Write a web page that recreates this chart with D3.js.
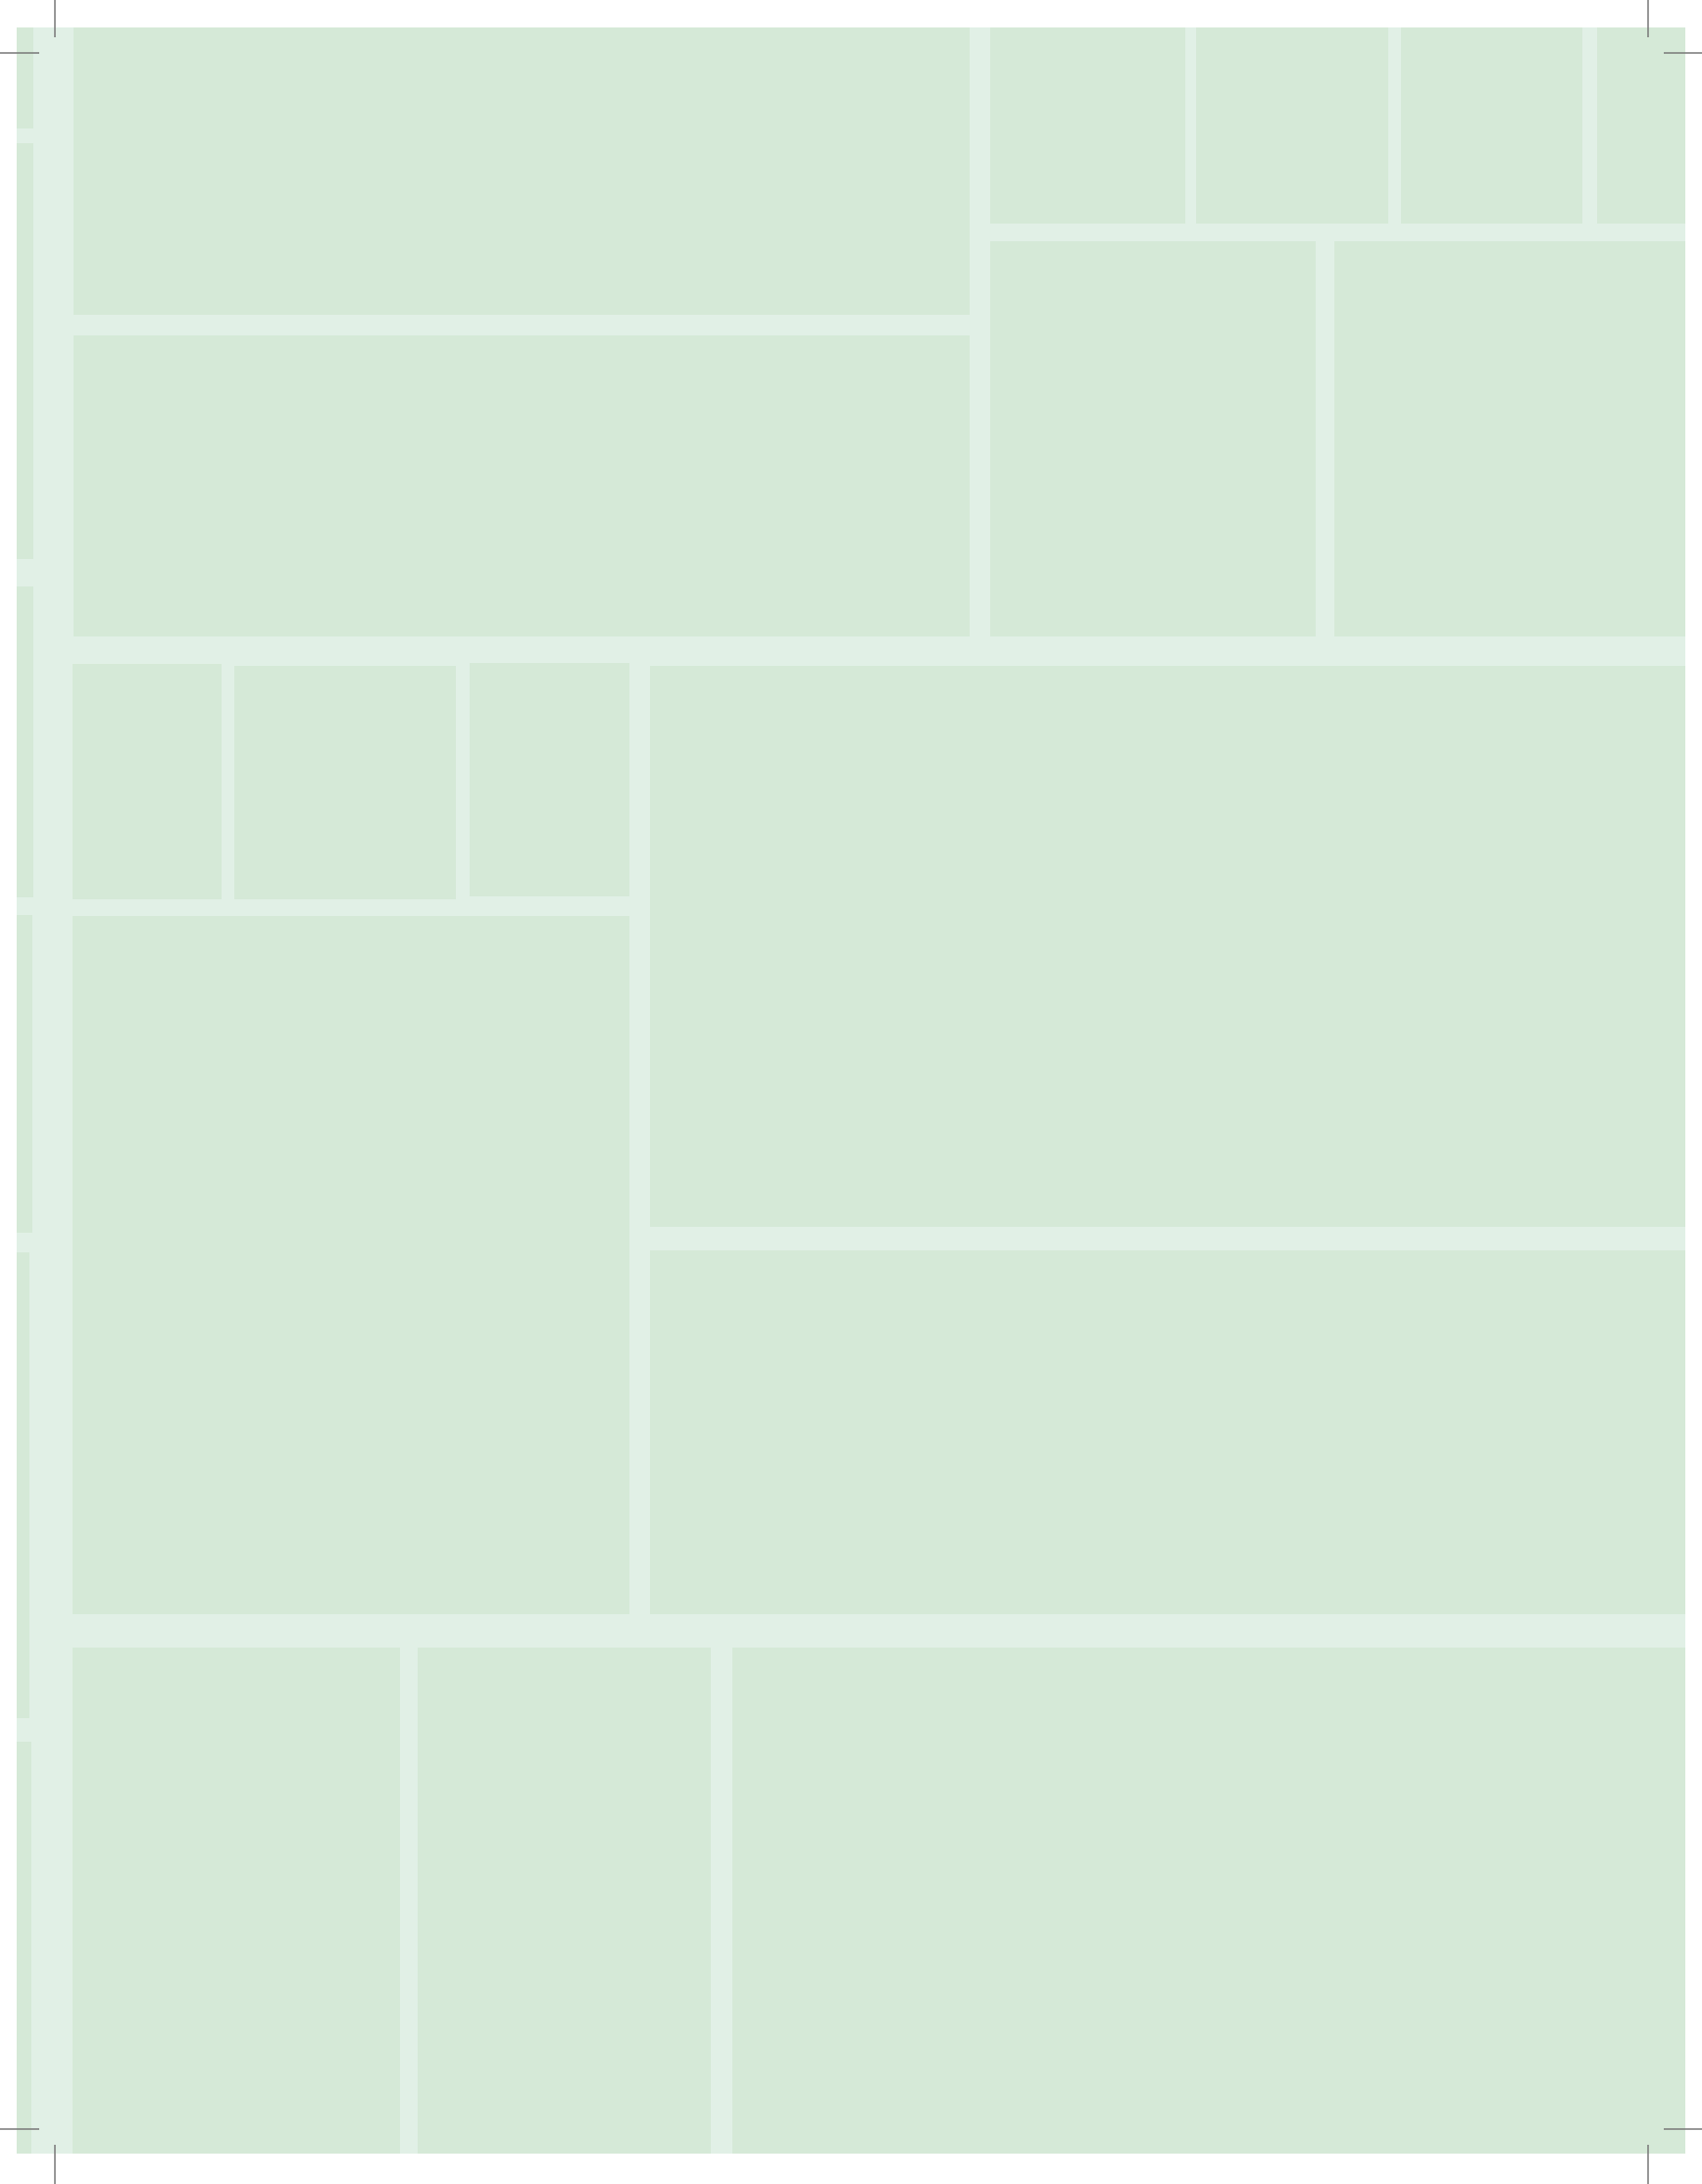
<!DOCTYPE html>
<html>
<head>
<meta charset="utf-8">
<script src="https://cdn.jsdelivr.net/npm/d3@7"></script>
<style>
  html, body { margin: 0; padding: 0; background: #fff; }
  svg { display: block; }
</style>
</head>
<body>
<svg id="sheet"></svg>
<script>
// page extent in layout units (bleed box)
const pageW = 1702, pageH = 2168;

// narrow column of blocks along the left bleed: [x0, x1, y0, y1]
const stripBlocks = [
  [0, 17, 0, 103],
  [0, 17, 118, 542],
  [0, 17, 570, 887],
  [0, 16, 905, 1229],
  [0, 13, 1249, 1724],
  [0, 15, 1748, 2168]
];

// main layout blocks: [x0, x1, y0, y1]
const topBlocks = [
  [58, 972, 0, 293],
  [58, 972, 314, 621],
  [993, 1192, 0, 200],
  [1203, 1399, 0, 200],
  [1412, 1597, 0, 200],
  [1612, 1702, 0, 200],
  [993, 1325, 218, 621],
  [1344, 1702, 218, 621]
];
const middleBlocks = [
  [57, 209, 649, 889],
  [222, 448, 651, 889],
  [462, 625, 648, 886],
  [646, 1702, 651, 1223],
  [57, 625, 906, 1618],
  [646, 1702, 1247, 1618]
];
const bottomBlocks = [
  [57, 391, 1652, 2168],
  [409, 708, 1652, 2168],
  [730, 1702, 1652, 2168]
];

// crop marks at the trim corners: [x1, y1, x2, y2]
const cropMarks = [
  [39, -28, 39, 10], [-17, 26, 23, 26],
  [1664, -28, 1664, 10], [1680, 26, 1719, 26],
  [-17, 2143, 23, 2143], [39, 2159, 39, 2199],
  [1680, 2143, 1719, 2143], [1664, 2159, 1664, 2199]
];

const W = 1736, H = 2227;
const x = d3.scaleLinear().domain([0, pageW]).range([17, 17 + pageW]);
const y = d3.scaleLinear().domain([0, pageH]).range([28, 28 + pageH]);

const svg = d3.select("#sheet").attr("width", W).attr("height", H)
  .attr("viewBox", `0 0 ${W} ${H}`);

svg.append("rect").attr("width", W).attr("height", H).attr("fill", "#ffffff");

// page background
svg.append("rect")
  .attr("x", x(0)).attr("y", y(0))
  .attr("width", x(pageW) - x(0)).attr("height", y(pageH) - y(0))
  .attr("fill", "#e1f0e6");

const blocks = [...stripBlocks, ...topBlocks, ...middleBlocks, ...bottomBlocks];

svg.append("g").selectAll("rect").data(blocks).join("rect")
  .attr("x", d => x(d[0]))
  .attr("y", d => y(d[2]))
  .attr("width", d => x(d[1]) - x(d[0]))
  .attr("height", d => y(d[3]) - y(d[2]))
  .attr("fill", "#d5e9d7");

svg.append("g").selectAll("line").data(cropMarks).join("line")
  .attr("x1", d => x(d[0])).attr("y1", d => y(d[1]))
  .attr("x2", d => x(d[2])).attr("y2", d => y(d[3]))
  .attr("stroke", "#777").attr("stroke-width", 1.5);
</script>
</body>
</html>
